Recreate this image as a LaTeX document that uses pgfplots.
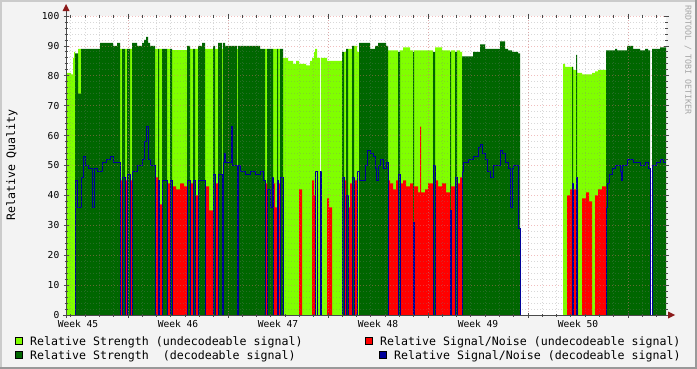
\documentclass[border=0pt]{standalone}
\usepackage{fontspec}
\setmainfont{DejaVu Sans Mono}
\usepackage{pgfplots}
\pgfplotsset{compat=1.18}
\usepackage{pgfplotstable}
\definecolor{lgreen}{HTML}{80FF00}
\definecolor{dgreen}{HTML}{006600}
\definecolor{snrred}{HTML}{FF0000}
\definecolor{snrblue}{HTML}{000099}
\definecolor{bgc}{HTML}{F3F3F3}
\definecolor{shadeA}{HTML}{CBCBCB}
\definecolor{shadeB}{HTML}{999999}
\definecolor{axiscol}{HTML}{4A4A4A}
\definecolor{arrowcol}{HTML}{8B1A1A}
\definecolor{mgrid}{HTML}{E07070}

\pgfplotstableread{
x lg dg red blue
66 65 0 0 0
67 81 0 0 0
71 80.5 0 0 0
73 86 0 0 0
74 88 0 0 0
75 0 87.5 0 45
77 0 87.5 0 36
78 89 74 0 36
81 0 89 0 46
83 0 89 0 53
85 0 89 0 50
88 0 89 0 49
92 0 89 0 36
94 0 89 0 49
97 0 89 0 48
100 0 91 0 48
102 0 91 0 51
106 0 91 0 52
110 0 91 0 53
113 0 90 0 51
117 0 91 0 51
120 89 0 45 0
122 0 89 0 46
125 89 0 45 0
127 0 89 0 47
130 89 0 45 0
132 0 91 0 48
137 0 90 0 50
142 0 91 0 52
144 0 92 0 58
146 0 93 0 63
148 0 91 0 52
150 0 90 0 50
155 89 0 46 0
158 0 89 0 45
159 89 0 37 0
162 0 89 0 45
167 89 0 44 0
170 0 89 0 45
172 88.6 0 43 0
176 88.6 0 42 0
180 88.6 0 44 0
184 88.6 0 43 0
187 0 90 0 45
190 89 0 44 0
193 0 89 0 45
195 89 0 40 0
198 0 90 0 45
202 0 91 0 45
205 89 0 43 0
209 89 0 35 0
213 0 90 0 47
215 89 0 44 0
218 0 91 0 47
222 89 0 43 0
223 0 91 0 51
224 0 91 0 54
225 0 90 0 51
231 0 90 0 63
232 0 90 0 50
237 89 0 0 0
238 0 90 0 50
240 0 90 0 48
245 0 90 0 47
250 0 90 0 48
255 0 90 0 47
260 0 89 0 48
263 0 89 0 45
265 89 0 44 0
267 0 89 0 42
270 0 89 0 36
272 0 89 0 46
273 89 0 44 0
275 89 0 36 0
277 0 89 0 45
278 89 0 44 0
280 0 89 0 46
283 86 0 0 0
288 85 0 0 0
293 84 0 0 0
296 85 0 0 0
299 84 0 42 0
302 84 0 0 0
306 83.5 0 0 0
310 85 0 0 0
312 86 0 45 0
314 88 0 40 0
315 89 0 0 48
317 86 0 0 0
320 0 0 0 48
321 86 0 0 0
327 85 0 39 0
329 85 0 36 0
332 85 0 0 0
342 0 88 0 46
344 88 0 45 0
346 0 89 0 40
348 89 0 36 0
350 89 0 44 0
352 0 90 0 46
354 90 0 45 0
357 88 0 0 48
359 0 91 0 45
365 0 91 0 50
367 0 91 0 55
370 0 89 0 54
373 0 89 0 53
375 0 90 0 49
376 0 90 0 45
378 0 91 0 50
380 0 91 0 52
383 0 91 0 49
386 0 90 0 51
388 88.5 0 45 0
390 88.5 0 44 0
393 88.5 0 42 0
396 88.5 0 45 0
398 0 88 0 47
400 88.5 0 44 0
403 89.5 0 45 0
406 89.5 0 43 0
410 88.5 0 44 0
413 0 88 0 31
414 88.5 0 43 0
418 88.5 0 41 0
420 88.5 0 63 0
421 88.5 0 41 0
425 88.5 0 42 0
428 88.5 0 44 0
433 0 88 0 50
435 89.5 0 45 0
438 89.5 0 43 0
442 88.5 0 44 0
446 88.5 0 41 0
450 0 88 0 35
451 88.5 0 43 0
455 0 88 0 46
457 88.5 0 44 0
460 88 0 46 0
462 0 86.5 0 48
463 0 86.5 0 51
468 0 86.5 0 52
473 0 88 0 53
478 0 88 0 56
480 0 90.5 0 57
482 0 90.5 0 54
485 0 89 0 52
487 0 89 0 48
490 0 89 0 46
493 0 89 0 50
500 0 91.5 0 55
502 0 91.5 0 54
505 0 89 0 51
508 0 88.5 0 49
510 0 88.5 0 36
512 0 88 0 49
513 0 88 0 50
518 0 87.5 0 29
520 0 0 0 0
563 84 0 0 0
565 83 0 0 0
567 83 0 40 0
570 83 0 42 0
572 83 83 0 44
573 82 0 42 0
576 82 87 0 46
577 81 0 42 0
578 81 0 0 0
582 80.5 0 39 0
586 80.5 0 41 0
589 80.5 0 38 0
592 81 0 0 0
595 81.5 0 40 0
598 82 0 42 0
602 82 0 43 0
606 0 88.5 0 36
607 0 88.5 0 44
609 0 88.5 0 47
612 0 88.5 0 49
615 0 89 0 50
617 0 88.5 0 50
620 0 88.5 0 48
621 0 88.5 0 45
622 0 88.5 0 50
627 0 90 0 52
633 0 89 0 51
640 0 88.5 0 50
645 0 89 0 51
648 0 88.5 0 49
650 0 0 0 0
652 0 89 0 50
656 0 89 0 51
660 0 89.5 0 52
663 0 89.5 0 51
666 0 89.5 0 51
}\data

\newcommand{\legfont}{\fontsize{11.6bp}{13bp}\selectfont}
\newcommand{\axfont}{\fontsize{9.6bp}{11bp}\selectfont}

\begin{document}
\begin{tikzpicture}
\path[use as bounding box] (0bp,0bp) rectangle (697bp,-369bp);
\fill[bgc] (0bp,0bp) rectangle (697bp,-369bp);
\fill[shadeA] (0bp,0bp) rectangle (697bp,-2bp);
\fill[shadeA] (0bp,0bp) rectangle (2bp,-369bp);
\fill[shadeB] (0bp,-367bp) rectangle (697bp,-369bp);
\fill[shadeB] (695bp,0bp) rectangle (697bp,-369bp);

\begin{axis}[
  at={(66bp,-315bp)}, anchor=south west,
  scale only axis, width=600bp, height=299bp,
  xmin=66, xmax=666, ymin=0, ymax=100,
  axis background/.style={fill=white},
  axis on top,
  axis line style={draw=none},
  /pgf/number format/assume math mode=true,
  ytick={0,10,...,100},
  minor y tick num=4,
  xtick={128,228,328,428,528,628},
  xticklabels={},
  minor xtick={70.857,85.143,...,660},
  extra x ticks={78,178,278,378,478,578},
  extra x tick labels={Week 45,Week 46,Week 47,Week 48,Week 49,Week 50},
  extra x tick style={grid=none, major tick length=0pt},
  grid=both,
  major grid style={draw=mgrid, line width=0.8bp, dash pattern=on 1bp off 2bp, opacity=0.45},
  minor grid style={draw=gray, line width=0.8bp, dash pattern=on 1bp off 2bp, opacity=0.3},
  tick align=center,
  major tick length=5bp,
  minor tick length=3bp,
  tick style={draw=axiscol, line width=0.8bp},
  yticklabel style={font=\axfont, anchor=east, inner sep=0pt, xshift=-4bp},
  xticklabel style={font=\axfont, anchor=north, inner sep=0pt, yshift=-5bp},
]
\addplot[const plot, fill=lgreen, draw=none] table[x=x, y=lg] {\data} \closedcycle;
\addplot[const plot, fill=dgreen, draw=none] table[x=x, y=dg] {\data} \closedcycle;
\addplot[const plot, fill=snrred, draw=none] table[x=x, y=red] {\data} \closedcycle;
\addplot[const plot, draw=snrblue, line width=1bp] table[x=x, y=blue] {\data};
\end{axis}

% axis lines and arrows
\draw[axiscol, line width=1bp] (66bp,-318bp) -- (66bp,-9bp);
\draw[axiscol, line width=1bp] (63bp,-315bp) -- (670bp,-315bp);
\fill[arrowcol] (62.5bp,-11bp) -- (69.5bp,-11bp) -- (66bp,-4bp) -- cycle;
\fill[arrowcol] (668bp,-311.5bp) -- (668bp,-318.5bp) -- (675bp,-315bp) -- cycle;

% y label
\node[rotate=90, font=\legfont, inner sep=0pt] at (12bp,-165bp) {Relative Quality};
% watermark
\node[rotate=-90, font=\fontsize{8.3bp}{9bp}\selectfont, text=gray!70, inner sep=0pt] at (688bp,-60bp) {RRDTOOL / TOBI OETIKER};

% legend
\filldraw[fill=lgreen, draw=black, line width=1bp] (15.5bp,-337.5bp) rectangle (22.5bp,-344.5bp);
\node[font=\legfont, anchor=base west, inner sep=0pt] at (30bp,-345.5bp) {Relative Strength (undecodeable signal)};
\filldraw[fill=dgreen, draw=black, line width=1bp] (15.5bp,-351bp) rectangle (22.5bp,-358bp);
\node[font=\legfont, anchor=base west, inner sep=0pt] at (30bp,-359bp) {Relative Strength\ \ (decodeable signal)};
\filldraw[fill=snrred, draw=black, line width=1bp] (365.5bp,-337.5bp) rectangle (372.5bp,-344.5bp);
\node[font=\legfont, anchor=base west, inner sep=0pt] at (380bp,-345.5bp) {Relative Signal/Noise (undecodeable signal)};
\filldraw[fill=snrblue, draw=black, line width=1bp] (379.5bp,-351bp) rectangle (386.5bp,-358bp);
\node[font=\legfont, anchor=base west, inner sep=0pt] at (394bp,-359bp) {Relative Signal/Noise (decodeable signal)};
\end{tikzpicture}
\end{document}
